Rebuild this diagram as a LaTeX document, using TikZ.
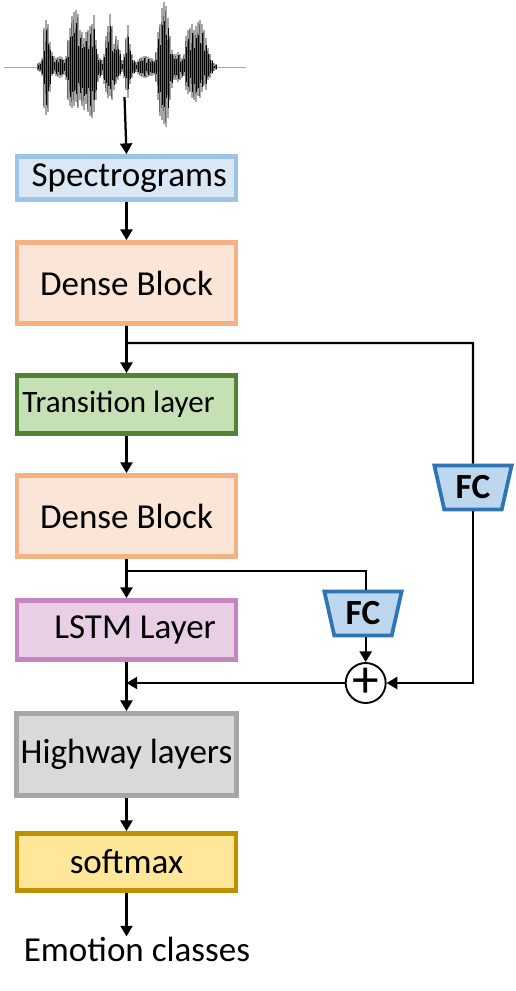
\documentclass[tikz,border=0pt]{standalone}
\usepackage{fontspec}
\setmainfont{Carlito}
\usepackage{xcolor}
\usetikzlibrary{shapes.geometric, arrows.meta, positioning}

\definecolor{specfill}{HTML}{DAE8F5}
\definecolor{specline}{HTML}{9DC3E6}
\definecolor{densefill}{HTML}{FBE5D6}
\definecolor{denseline}{HTML}{F4B183}
\definecolor{transfill}{HTML}{C5E0B4}
\definecolor{transline}{HTML}{548235}
\definecolor{lstmfill}{HTML}{E8CFE6}
\definecolor{lstmline}{HTML}{C586C0}
\definecolor{highfill}{HTML}{D9D9D9}
\definecolor{highline}{HTML}{A6A6A6}
\definecolor{softfill}{HTML}{FFE699}
\definecolor{softline}{HTML}{BF9000}
\definecolor{fcfill}{HTML}{BDD7EE}
\definecolor{fcline}{HTML}{2E75B6}

\begin{document}
\begin{tikzpicture}[
        x=0.75pt, y=-0.75pt,
        box/.style={rectangle, draw, line width=3.4pt, minimum width=164pt, align=center, font=\fontsize{26.3}{30}\selectfont},
        fcbox/.style={trapezium, shape border rotate=180, trapezium angle=75.7, trapezium stretches=true, draw=fcline, fill=fcfill, line width=2.8pt, minimum width=58pt, minimum height=33pt, inner sep=0pt, font=\fontsize{26.5}{30}\selectfont\bfseries},
        arrow/.style={-{Triangle[length=8pt,width=9pt]}, line width=1.7pt},
        link/.style={line width=1.7pt}
    ]
    \useasboundingbox (0,0) rectangle (515,991);

    % waveform
    \draw[gray!70, line width=0.7pt] (4,67) -- (246,67);
    \foreach \wx/\wtop/\wbot in {
        38/63/71, 40/62/72, 42/58/76, 44/28/108, 46/20/115, 48/24/112, 50/42/92, 52/52/76, 54/56/74, 56/58/76,
        58/57/77, 60/56/78, 62/57/77, 64/59/75, 66/56/80, 68/40/100, 70/28/106, 72/16/108, 74/12/106, 76/10/102,
        78/14/108, 80/30/100, 82/32/106, 84/38/110, 86/32/104, 88/30/112, 90/26/116, 92/24/118, 94/15/112, 96/40/100,
        98/54/82, 100/58/78, 102/60/75, 104/54/84, 106/36/92, 108/26/98, 110/14/96, 112/26/100, 114/44/90, 116/36/84,
        118/40/80, 120/50/76, 122/60/72, 124/54/78, 126/38/90, 128/25/98, 130/44/84, 132/54/78, 134/60/74, 136/62/72,
        138/60/74, 140/58/76, 142/57/77, 144/56/78, 146/56/78, 148/57/77, 150/58/76, 152/58/76, 154/60/75, 156/52/82,
        158/32/100, 160/24/116, 162/8/120, 164/2/124, 166/6/127, 168/18/118, 170/36/100, 172/50/88, 174/54/80, 176/54/80,
        178/52/82, 180/54/80, 182/58/78, 184/54/76, 186/36/90, 188/30/94, 190/28/92, 192/24/98, 194/30/100, 196/26/102,
        198/22/96, 200/20/98, 202/24/92, 204/30/86, 206/38/90, 208/48/80, 210/54/78, 212/60/74, 214/63/71, 216/64/70}
    {
        \pgfmathsetmacro{\wfa}{0.35+0.45*abs(sin(\wx*37))}
        \pgfmathsetmacro{\wfb}{0.5+0.45*abs(cos(\wx*53))}
        \draw[black!35, line width=1.6pt] (\wx,\wtop) -- (\wx,\wbot);
        \draw[black!60, line width=1.1pt] (\wx-0.5,{67+\wfb*(\wtop-67)}) -- (\wx-0.5,{67+\wfb*(\wbot-67)});
        \draw[black, line width=1.1pt] (\wx+0.5,{67+\wfa*(\wtop-67)}) -- (\wx+0.5,{67+\wfa*(\wbot-67)});
    }
    \coordinate (wave) at (124.5,97);

    \node (spec) [box, draw=specline, fill=specfill, minimum height=32.5pt] at (126.5,178) {\hspace*{4pt}Spectrograms};
    \node (dense1) [box, draw=denseline, fill=densefill, minimum height=61pt, below=28.6pt of spec] {Dense Block};
    \node (trans) [box, draw=transline, fill=transfill, minimum height=43.75pt, below=35.35pt of dense1, font=\fontsize{23.3}{26}\selectfont] {Transition layer\hspace*{12pt}};
    \node (dense2) [box, draw=denseline, fill=densefill, minimum height=61pt, below=27.85pt of trans] {Dense Block};
    \node (lstm) [box, draw=lstmline, fill=lstmfill, minimum height=44.5pt, below=29.35pt of dense2] {\hspace*{13pt}LSTM Layer};
    \node (high) [box, draw=highline, fill=highfill, minimum height=61.75pt, below=36.85pt of lstm] {Highway layers};
    \node (soft) [box, draw=softline, fill=softfill, minimum height=43pt, below=24.85pt of high] {softmax};
    \node (emo) [font=\fontsize{26.3}{30}\selectfont, inner sep=0pt] at (137,949) {Emotion classes};

    \node (fc1) [fcbox] at (473,487.5) {FC};
    \node (fc2) [fcbox] at (363,613.5) {FC};
    \node (sum) [circle, draw, fill=white, line width=1.4pt, minimum size=30pt, inner sep=0pt, font=\fontsize{40}{40}\selectfont] at (365.7,683) {+};

    \coordinate (turn1) at (473,343);
    \coordinate (turn2) at (365.7,571);
    \coordinate (join) at (lstm.south |- sum.west);

    \draw[arrow] (wave) -- (spec.north);
    \draw[arrow] (spec) -- (dense1);
    \draw[arrow] (dense1) -- (trans);
    \draw[arrow] (trans) -- (dense2);
    \draw[arrow] (dense2) -- (lstm);
    \draw[arrow] (lstm) -- (high);
    \draw[arrow] (high) -- (soft);
    \draw[arrow] (soft.south) -- (soft.south |- emo.north);

    \draw[link] (dense1.south) |- (turn1) -- (fc1.north);
    \draw[link] (dense2.south) |- (turn2) -- (turn2 |- fc2.north);
    \draw[arrow] (fc1.south) |- (sum.east);
    \draw[arrow] (sum.north |- fc2.south) -- (sum.north);
    \draw[arrow] (sum.west) -- (join);

\end{tikzpicture}
\end{document}
